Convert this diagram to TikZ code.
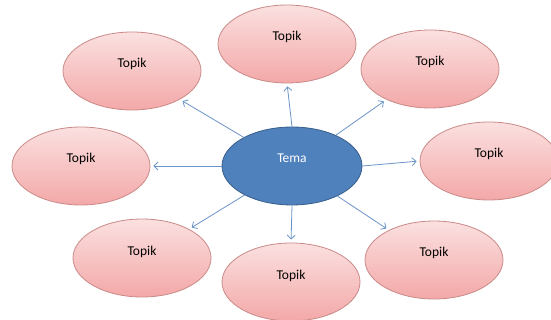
\documentclass[tikz,border=0pt]{standalone}
\usepackage{fontspec}
\setmainfont{Carlito}
\usetikzlibrary{shapes.geometric,arrows.meta}
\definecolor{topikfill1}{HTML}{FBE0E0}
\definecolor{topikfill2}{HTML}{F3A8A8}
\definecolor{topikline}{HTML}{C98A88}
\definecolor{temafill}{HTML}{4F81BD}
\definecolor{temaline}{HTML}{385D8A}
\definecolor{panah}{HTML}{6A93C6}
\tikzset{>={Straight Barb[length=4pt,width=8pt]}}
\tikzset{
	topik/.style={ellipse,draw=topikline,thick,top color=topikfill1,bottom color=topikfill2,
		minimum width=138pt,minimum height=78pt,inner sep=0pt,
		text height=9pt,text depth=15pt,font=\fontsize{13.5}{14}\selectfont},
	tema/.style={ellipse,draw=temaline,thick,fill=temafill,text=white,
		minimum width=140pt,minimum height=78pt,inner sep=0pt,
		text height=9pt,text depth=15pt,font=\fontsize{13.5}{14}\selectfont},
	panahtopik/.style={->,draw=panah,thick,shorten >=3pt}
}

\begin{document}
\begin{tikzpicture}[x=1pt,y=-1pt]
	\useasboundingbox (0,0) rectangle (551,320);

	\node[tema] (tema) at (292,166) {Tema};

	\node[topik] (atas) at (287,44) {Topik};
	\node[topik] (kiriatas) at (132,71) {Topik};
	\node[topik] (kananatas) at (430,69) {Topik};
	\node[topik] (kiri) at (81,166) {Topik};
	\node[topik] (kanan) at (489,161) {Topik};
	\node[topik] (kiribawah) at (142,258) {Topik};
	\node[topik] (bawah) at (291,282) {Topik};
	\node[topik] (kananbawah) at (434,260) {Topik};

	\draw[panahtopik] (tema.north) -- (atas.south);
	\draw[panahtopik] (tema) -- (kiriatas);
	\draw[panahtopik] (tema) -- (kananatas);
	\draw[panahtopik] (tema.west) -- (kiri.east);
	\draw[panahtopik] (tema.east) -- (kanan.west);
	\draw[panahtopik] (tema) -- (kiribawah);
	\draw[panahtopik] (tema.south) -- (bawah.north);
	\draw[panahtopik] (tema) -- (kananbawah);

\end{tikzpicture}
\end{document}
